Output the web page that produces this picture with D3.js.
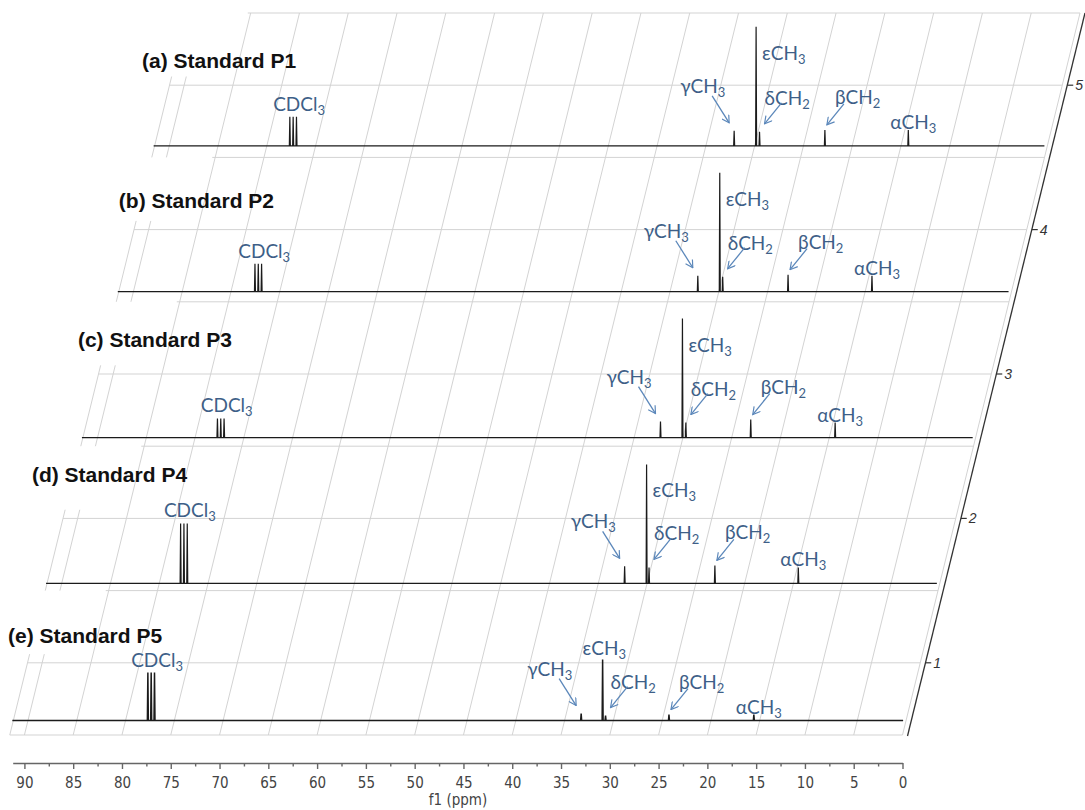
<!DOCTYPE html>
<html>
<head>
<meta charset="utf-8">
<script src="https://d3js.org/d3.v7.min.js"></script>
<style>
    body { margin: 0; background: #fff; }
    .grid-line { stroke: #d3d3d3; stroke-width: 1; fill: none; }
    .stack-axis { stroke: #333; stroke-width: 1.3; fill: none; }
    .trace { fill: none; stroke: #1b1b1b; stroke-width: 1.2; stroke-linejoin: miter; }
    .trace.noisy { stroke-width: 1.5; }
    .title { font-family: "Liberation Sans", Arial, sans-serif; font-weight: bold; font-size: 21px; fill: #111; }
    .peak-label { font-family: Lato, "Open Sans", sans-serif; font-size: 19px; fill: #3e5f88; }
    .peak-label .sub { font-size: 13px; }
    .arrow { stroke: #5b87ba; stroke-width: 1.3; fill: none; }
    .x-axis text { font-family: "Liberation Sans Narrow", "DejaVu Sans Condensed", sans-serif; font-size: 15px; fill: #444; }
    .x-axis path, .x-axis line { stroke: #666; stroke-width: 1.4; }
    .x-title { font-family: "Liberation Sans Narrow", "DejaVu Sans Condensed", sans-serif; font-size: 15px; fill: #444; }
    .stack-tick text { font-family: "Liberation Sans", Arial, sans-serif; font-style: italic; font-size: 14px; fill: #333; }
</style>
</head>
<body>
<script>
    // samples, top to bottom
    var samples = ["(a) Standard P1", "(b) Standard P2", "(c) Standard P3", "(d) Standard P4", "(e) Standard P5"];
    var stackLevels = [4.58, 3.57, 2.56, 1.55, 0.60];

    // peaks: CDCl3, γCH3, εCH3, δCH2, βCH2, αCH3
    var peakMain = ["CDCl", "γCH", "εCH", "δCH", "βCH", "αCH"];
    var peakSub = ["3", "3", "3", "2", "2", "3"];
    var peakShifts = [
        [77.3, 32.1, 29.85, 29.5, 22.8, 14.25],
        [77.2, 32.15, 29.9, 29.6, 22.9, 14.3],
        [77.37, 32.3, 30.05, 29.7, 23.05, 14.4],
        [77.47, 32.3, 30.05, 29.8, 23.05, 14.5],
        [77.37, 33.3, 31.1, 30.8, 24.3, 15.6]
    ];
    var peakHeights = [
        [24.4, 12.6, 100, 11.8, 13.4, 13.4],
        [23.5, 13.4, 100, 12.6, 14.3, 13.4],
        [16.0, 13.4, 100, 12.6, 15.1, 12.6],
        [50.4, 14.3, 100, 13.4, 15.1, 13.4],
        [40.3, 5.9, 51.3, 4.2, 5.0, 5.0]
    ];
    var tripletSplit = [-0.34, 0, 0.34];

    var ppmTicks = [90, 85, 80, 75, 70, 65, 60, 55, 50, 45, 40, 35, 30, 25, 20, 15, 10, 5, 0];
    var ppmMinorTicks = [87.5, 82.5, 77.5, 72.5, 67.5, 62.5, 57.5, 52.5, 47.5, 42.5, 37.5, 32.5, 27.5, 22.5, 17.5, 12.5, 7.5, 2.5];
    var stackTicks = [1, 2, 3, 4, 5];
    var gridLevels = [0.5, 1, 1.5, 2, 2.5, 3, 3.5, 4, 4.5, 5, 5.5];

    // title anchors (ppm, stack level)
    var titlePpm = [94.75, 93.6, 94.3, 95.6, 94.0];
    var titleLevel = [5.12, 4.15, 3.19, 2.25, 1.14];

    var W = 1085, H = 810;
    var svg = d3.select("body").append("svg")
        .attr("width", W)
        .attr("height", H);

    svg.append("defs").append("marker")
        .attr("id", "head")
        .attr("viewBox", "0 0 10 10")
        .attr("refX", 9).attr("refY", 5)
        .attr("markerWidth", 9).attr("markerHeight", 9)
        .attr("markerUnits", "userSpaceOnUse")
        .attr("orient", "auto")
        .append("path")
        .attr("d", "M1,0.5 L9,5 L1,9.5")
        .attr("fill", "none")
        .attr("stroke", "#5b87ba")
        .attr("stroke-width", 1.3);

    var x = d3.scaleLinear().domain([91.2, 0]).range([12.7, 902.5]);
    var yLevel = d3.scaleLinear().domain([0.5, 5.5]).range([735, 13]);
    var skew = d3.scaleLinear().domain([0.5, 5.5]).range([0, 177.5]);
    var yInt = d3.scaleLinear().domain([0, 100]).range([0, 119]);

    function px(ppm, level) { return x(ppm) + skew(level); }

    var line = d3.line();

    // ---- skewed grid
    var grid = svg.append("g").attr("class", "grid");

    grid.selectAll(".h")
        .data(gridLevels)
        .enter().append("path")
        .attr("class", "grid-line")
        .attr("d", function(L) {
            var start = (L === 0.5 || L % 1 === 0) ? 91.5 : 85.3;
            return line([[px(start, L), yLevel(L)], [px(0, L), yLevel(L)]]);
        });

    var slantPpm = ppmTicks.filter(function(d) { return d <= 85; });
    grid.selectAll(".s")
        .data(slantPpm)
        .enter().append("path")
        .attr("class", "grid-line")
        .attr("d", function(p) {
            return line([[px(p, 0.5), yLevel(0.5)], [px(p, 5.5), yLevel(5.5)]]);
        });

    // short edge lines at the left of each band
    var edges = [];
    stackTicks.forEach(function(k) {
        [91.5, 90].forEach(function(p) { edges.push({p: p, k: k}); });
    });
    grid.selectAll(".e")
        .data(edges)
        .enter().append("path")
        .attr("class", "grid-line")
        .attr("d", function(d) {
            return line([[px(d.p, d.k - 0.5), yLevel(d.k - 0.5)], [px(d.p, d.k + 0.06), yLevel(d.k + 0.06)]]);
        });

    // ---- stack axis on the right
    var sa = svg.append("g");
    sa.append("path")
        .attr("class", "stack-axis")
        .attr("d", line([[px(0, 0.5) + 5, yLevel(0.5) + 1], [px(0, 5.5) + 5, yLevel(5.5)]]));

    var st = sa.selectAll(".stack-tick")
        .data(stackTicks)
        .enter().append("g")
        .attr("class", "stack-tick")
        .attr("transform", function(k) { return "translate(" + (px(0, k) + 5) + "," + yLevel(k) + ")"; });
    st.append("line")
        .attr("x1", 0).attr("x2", 6)
        .attr("stroke", "#333").attr("stroke-width", 1.2);
    st.append("text")
        .attr("x", 8).attr("dy", "0.35em")
        .text(function(k) { return k; });

    // ---- spectra
    function tracePoints(i) {
        var L = stackLevels[i];
        var pts = [];
        peakShifts[i].forEach(function(p, j) {
            var splits = j === 0 ? tripletSplit : [0];
            splits.forEach(function(s) {
                pts.push({ppm: p + s, h: peakHeights[i][j]});
            });
        });
        pts.sort(function(a, b) { return b.ppm - a.ppm; });
        var w = 0.05;
        var out = [[px(91.6, L), yLevel(L)]];
        pts.forEach(function(d) {
            out.push([px(d.ppm + w, L), yLevel(L)]);
            out.push([px(d.ppm, L), yLevel(L) - yInt(d.h)]);
            out.push([px(d.ppm - w, L), yLevel(L)]);
        });
        out.push([px(0.3, L), yLevel(L)]);
        return out;
    }

    var traces = svg.append("g").attr("class", "traces");
    samples.forEach(function(name, i) {
        traces.append("path")
            .attr("class", i === 4 ? "trace noisy" : "trace")
            .attr("d", line(tracePoints(i)));
    });

    // ---- titles
    svg.selectAll(".title")
        .data(samples)
        .enter().append("text")
        .attr("class", "title")
        .attr("x", function(d, i) { return px(titlePpm[i], titleLevel[i]); })
        .attr("y", function(d, i) { return yLevel(titleLevel[i]); })
        .text(function(d) { return d; });

    // ---- peak labels and arrows
    var labels = svg.append("g");
    function addLabel(tx, ty, j, anchor) {
        var t = labels.append("text")
            .attr("class", "peak-label")
            .attr("x", tx).attr("y", ty)
            .attr("text-anchor", anchor || "start");
        t.append("tspan").text(peakMain[j]);
        t.append("tspan").attr("class", "sub").attr("dy", 4).text(peakSub[j]);
    }
    function addArrow(x1, y1, x2, y2) {
        labels.append("path")
            .attr("class", "arrow")
            .attr("marker-end", "url(#head)")
            .attr("d", line([[x1, y1], [x2, y2]]));
    }

    samples.forEach(function(name, i) {
        var L = stackLevels[i];
        peakShifts[i].forEach(function(p, j) {
            var hx = px(p, L);
            var h = yInt(peakHeights[i][j]);
            var top = yLevel(L) - h;
            if (j === 0) {
                addLabel(hx - 20, top - 6, j);
            } else if (j === 1) {
                addLabel(hx - 54, top - 38, j);
                addArrow(hx - 22, top - 35, hx - 5, top - 8);
            } else if (j === 2) {
                if (h > 80) addLabel(hx + 6, top + 33, j);
                else addLabel(hx - 20, top - 5, j);
            } else if (j === 3) {
                addLabel(hx + 5, top - 27, j);
                addArrow(hx + 22, top - 29, hx + 5, top - 8);
            } else if (j === 4) {
                addLabel(hx + 10, top - 26, j);
                addArrow(hx + 19, top - 26, hx + 2, top - 5);
            } else {
                addLabel(hx - 18, top - 1, j);
            }
        });
    });

    // ---- ppm axis
    var axisY = 763;
    var xAxis = d3.axisBottom(x).tickValues(ppmTicks).tickSize(6).tickSizeOuter(0)
        .tickFormat(d3.format("d"));
    var gx = svg.append("g")
        .attr("class", "x-axis")
        .attr("transform", "translate(0," + axisY + ")")
        .call(xAxis);
    gx.selectAll("text").attr("dy", null).attr("y", 25);

    svg.append("g")
        .attr("class", "x-axis")
        .attr("transform", "translate(0," + axisY + ")")
        .call(d3.axisBottom(x).tickValues(ppmMinorTicks).tickSize(3.5).tickSizeOuter(0).tickFormat(""))
        .select(".domain").remove();

    svg.append("text")
        .attr("class", "x-title")
        .attr("x", 458)
        .attr("y", 805)
        .attr("text-anchor", "middle")
        .text("f1 (ppm)");
</script>
</body>
</html>
